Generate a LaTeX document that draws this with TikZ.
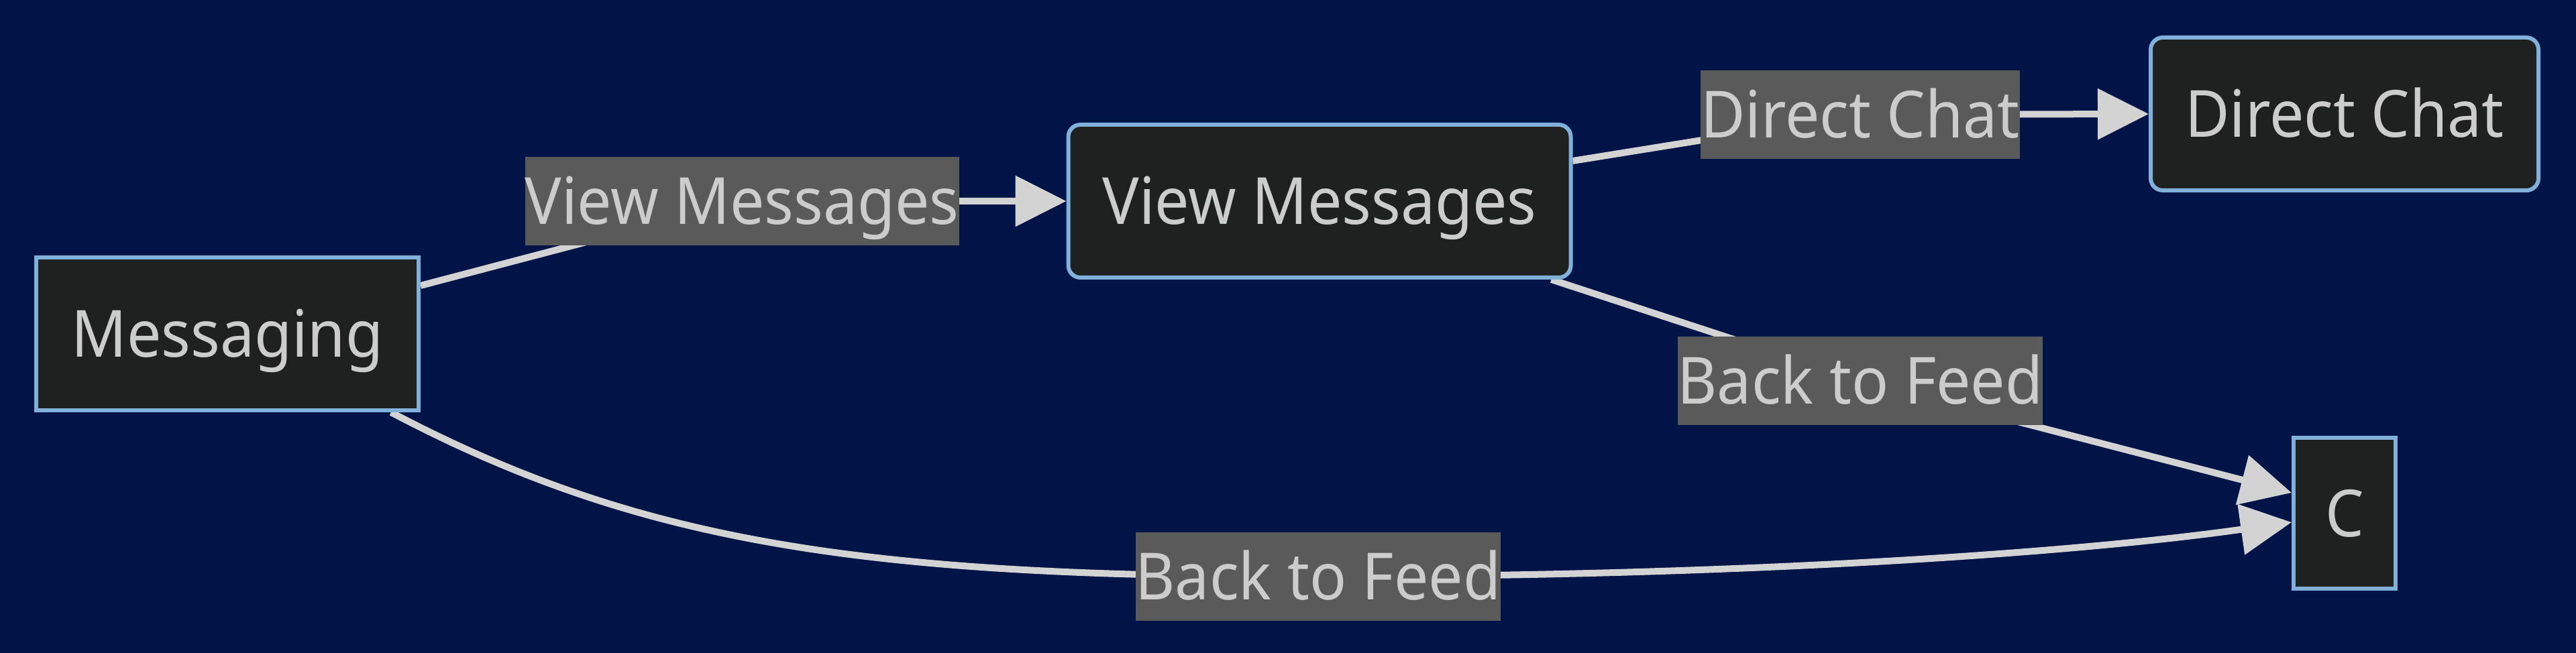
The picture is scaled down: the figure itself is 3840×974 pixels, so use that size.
\documentclass[tikz,border=0pt]{standalone}
\usepackage{fontspec}
\setmainfont{Noto Sans}[FakeStretch=0.94]
\usetikzlibrary{arrows.meta,calc}
\definecolor{bgnavy}{RGB}{0,20,72}
\definecolor{nodefill}{HTML}{1F2020}
\definecolor{nodeborder}{HTML}{81B1DB}
\definecolor{txt}{HTML}{CCCCCC}
\definecolor{lblfill}{HTML}{5A5A5A}
\definecolor{edgecol}{HTML}{D3D3D3}
\pgfdeclarelayer{back}
\pgfdeclarelayer{edgelayer}
\pgfsetlayers{back,edgelayer,main}
\tikzset{
  box/.style={draw=nodeborder, line width=6pt, fill=nodefill, text=txt,
    font=\fontsize{97}{110}\selectfont, inner sep=0pt, minimum height=228pt,
    text height=69pt, text depth=0pt},
  rbox/.style={box, rounded corners=18pt},
  lbl/.style={fill=lblfill, text=txt, font=\fontsize{97}{110}\selectfont,
    inner xsep=0pt, inner ysep=0pt, minimum height=132pt,
    text height=69pt, text depth=0pt},
  edge/.style={draw=edgecol, line width=10pt,
    -{Triangle[length=76pt,width=74pt]}},
}
\begin{document}
\begin{tikzpicture}[x=1pt,y=1pt]
\useasboundingbox (0,0) rectangle (3840,974);
\begin{pgfonlayer}{back}
\fill[bgnavy] (0,0) rectangle (3840,974);
\end{pgfonlayer}
% nodes
\node[box, minimum width=570pt] (M) at (339,476) {Messaging};
\node[rbox, minimum width=749pt] (VM) at (1967,674) {View Messages};
\node[rbox, minimum width=578pt] (DC) at (3495,804) {Direct Chat};
\node[box, minimum width=152pt, minimum height=225pt] (C) at (3495,208) {C};
% labels
\node[lbl] (L1) at (1106,674) {View Messages};
\node[lbl] (L2) at (2773,803) {Direct Chat};
\node[lbl] (L3) at (2773,406) {Back to Feed};
\node[lbl] (L4) at (1965,114) {Back to Feed};
% edges
\begin{pgfonlayer}{edgelayer}
\draw[edge, rounded corners=40pt] ($(M.east)+(0,72)$) -- (L1.center) -- (VM.west);
\draw[edge, rounded corners=40pt] ($(VM.east)+(0,60)$) -- (L2.center) -- (DC.west);
\draw[edge, rounded corners=40pt] ($(VM.south east)+(-32,0)$) -- (L3.center) -- ($(C.west)+(0,31)$);
\draw[edge] ($(M.south east)+(-44,0)$) .. controls (960,160) and (1300,114) .. (L4.center)
  .. controls (2600,114) and (3100,150) .. ($(C.west)+(0,-13)$);
\end{pgfonlayer}
\end{tikzpicture}
\end{document}
